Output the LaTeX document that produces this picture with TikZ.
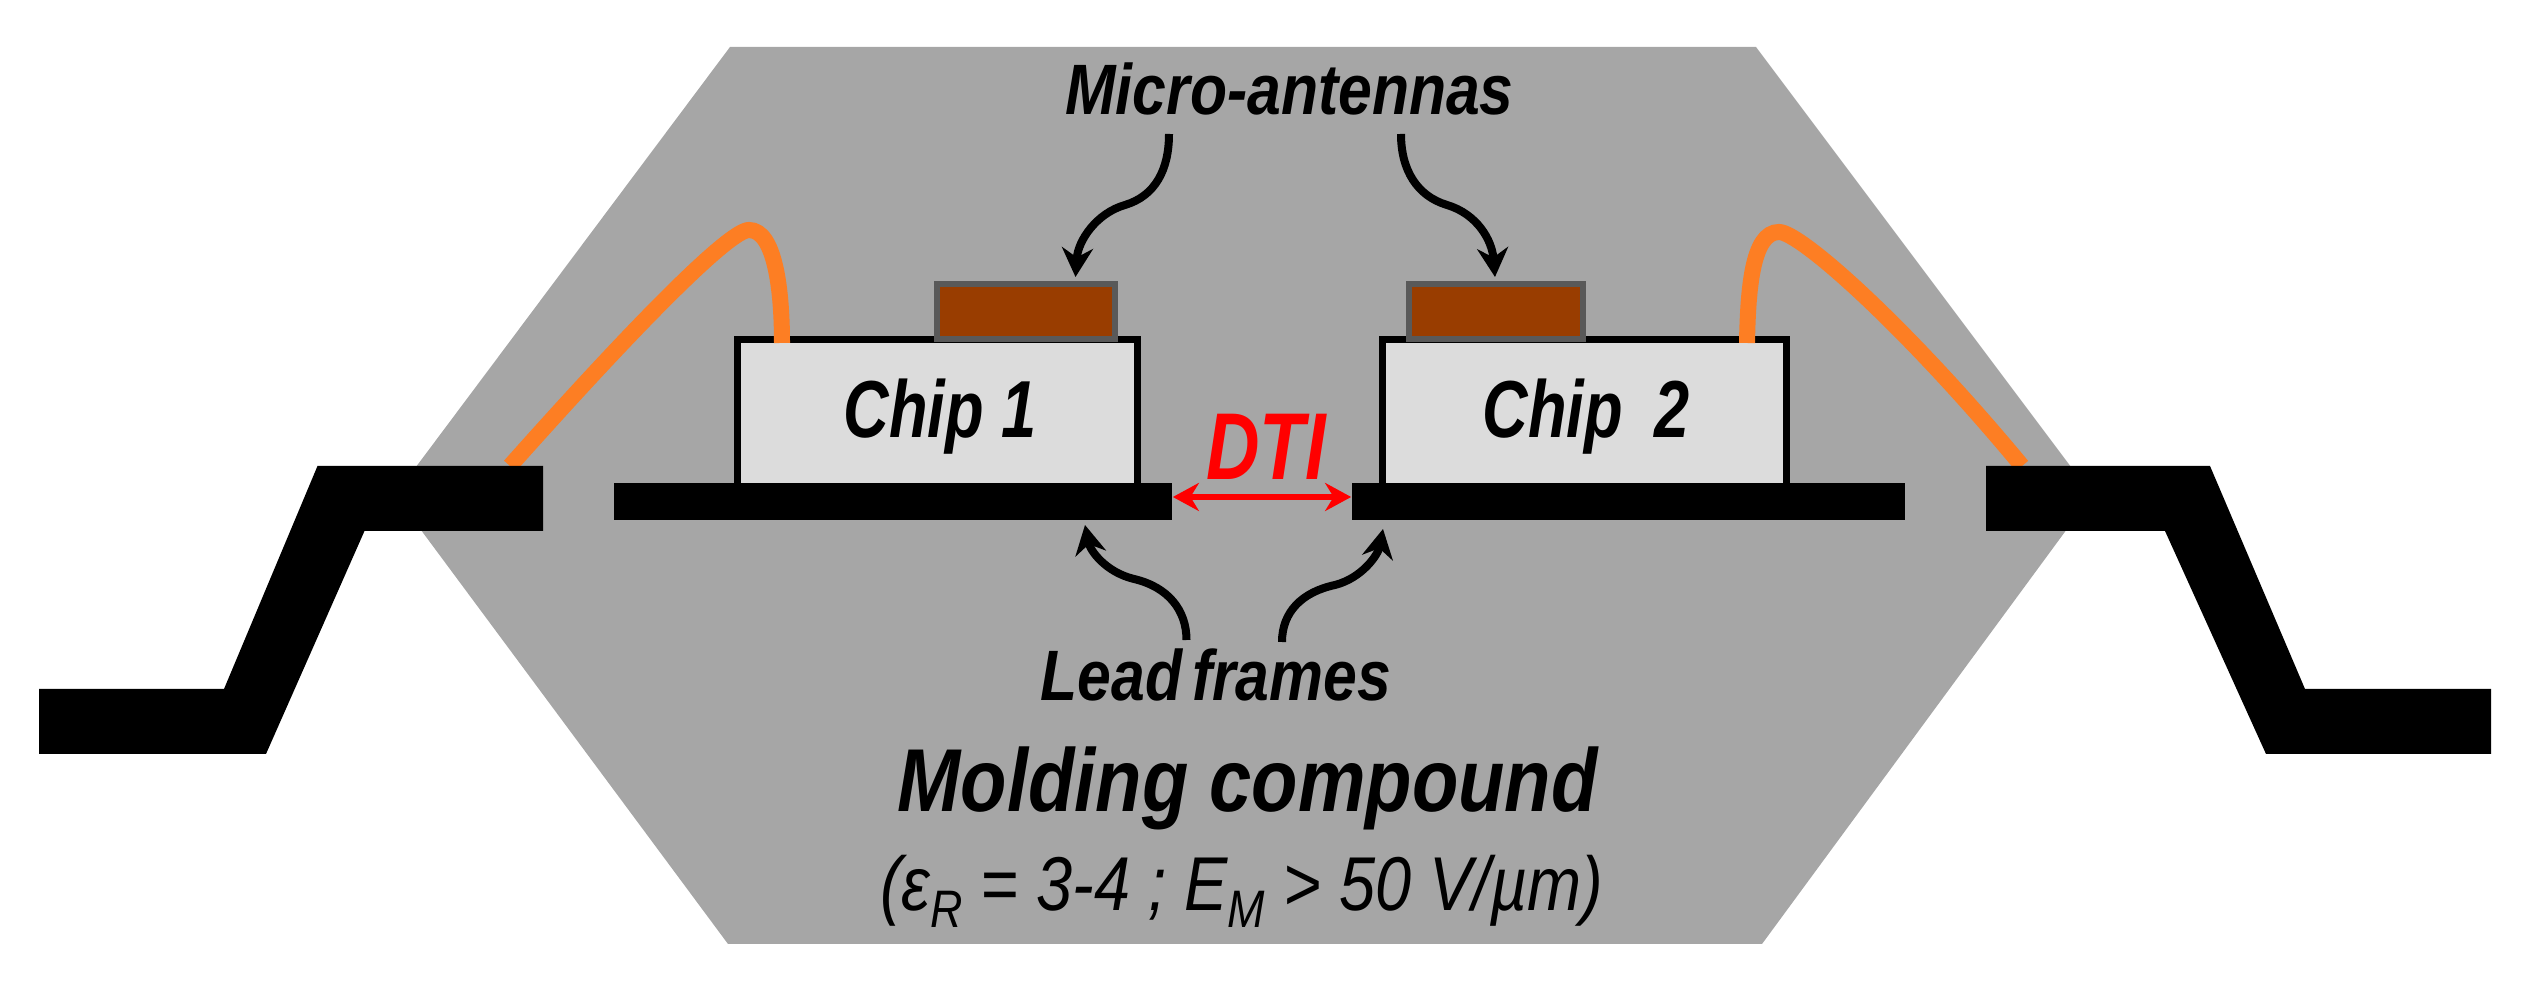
\documentclass[tikz,border=0pt]{standalone}
\usepackage{fontspec}
\setmainfont{Liberation Sans}
\newfontfamily\narrowfont[FakeStretch=0.78]{Liberation Sans}
\newfontfamily\widerfont[FakeStretch=0.85]{Liberation Sans}
\newcommand{\lowsub}[1]{\raisebox{-4.8pt}{\fontsize{15}{15}\selectfont #1}}
\usetikzlibrary{arrows.meta,positioning}

\begin{document}
\begin{tikzpicture}[x=0.01cm,y=-0.01cm]
\tikzset{
  hexshape/.style={fill=hexgrey,draw=none},
  leadshape/.style={fill=black,draw=none},
  padbar/.style={rectangle,fill=black,minimum width=5.58cm,minimum height=0.37cm,inner sep=0pt},
  chipbox/.style={rectangle,draw=black,fill=chipgrey,line width=0.07cm,minimum height=1.47cm,inner sep=0pt},
  antennabox/.style={rectangle,draw=antennaedge,fill=antennafill,line width=0.06cm,minimum height=0.55cm,inner sep=0pt},
  bondwire/.style={draw=wireorange,line width=0.16cm},
  callout/.style={draw=black,line width=0.08cm,-{Stealth[length=0.29cm,width=0.31cm]}},
  gapmark/.style={draw=red,line width=0.06cm,{Stealth[length=0.26cm,width=0.28cm]}-{Stealth[length=0.26cm,width=0.28cm]}},
  chiplabel/.style={anchor=base,inner sep=0pt,font=\narrowfont\bfseries\itshape\fontsize{23}{23}\selectfont},
  gaplabel/.style={anchor=base,inner sep=0pt,text=red,font=\narrowfont\bfseries\itshape\fontsize{27}{27}\selectfont},
  smalllabel/.style={anchor=base,inner sep=0pt,font=\widerfont\bfseries\itshape\fontsize{20.3}{20.3}\selectfont},
  biglabel/.style={anchor=base,inner sep=0pt,font=\widerfont\bfseries\itshape\fontsize{25.4}{25.4}\selectfont},
  plainlabel/.style={anchor=base,inner sep=0pt,font=\widerfont\itshape\fontsize{21.7}{21.7}\selectfont}
}
\definecolor{hexgrey}{HTML}{A6A6A6}
\definecolor{chipgrey}{HTML}{DCDCDC}
\definecolor{antennaedge}{HTML}{595959}
\definecolor{antennafill}{HTML}{993D00}
\definecolor{wireorange}{HTML}{FD7E23}
\useasboundingbox (0,0) rectangle (2538,983);
% package body
\path[hexshape] (730,47) -- (1756,47) -- (2092,495) -- (1762,944) -- (728,944) -- (395,495) -- cycle;
% chips and antennas
\node[chipbox,minimum width=4.00cm] (n_chip1) at (937.5,413) {};
\node[chipbox,minimum width=4.04cm] (n_chip2) at (1584.5,413) {};
\node[antennabox,minimum width=1.78cm] (n_ant1) at (1026,311.5) {};
\node[antennabox,minimum width=1.74cm] (n_ant2) at (1496,311.5) {};
\node[chiplabel] (n_chip1_text) at (940,438) {Chip 1};
\node[chiplabel] (n_chip2_text) at (1586,438) {Chip\, 2};
% lead frames
\node[padbar] (n_pad1) at (893,501.5) {};
\node[padbar,minimum width=5.53cm] (n_pad2) at (1628.5,501.5) {};
% bond wires
\coordinate (n_wire1a) at (782,343);
\coordinate (n_wire1b) at (749,230);
\coordinate (n_wire1c) at (510,466);
\coordinate (n_wire2a) at (1747,343);
\coordinate (n_wire2b) at (1779,232);
\coordinate (n_wire2c) at (2022,466);
\draw[bondwire] (n_wire1a) .. controls (782,290) and (775,230) .. (n_wire1b) .. controls (730,230) and (640,320) .. (n_wire1c);
\draw[bondwire] (n_wire2a) .. controls (1748,290) and (1752,232) .. (n_wire2b) .. controls (1800,232) and (1905,325) .. (n_wire2c);
% outer leads
\path[leadshape] (317.5,466) -- (543,466) -- (543,531) -- (364.5,531) -- (266,754) -- (39,754) -- (39,689) -- (224,689) -- cycle;
\path[leadshape] (1986,466) -- (2210,466) -- (2305,689) -- (2491,689) -- (2491,754) -- (2266,754) -- (2165,531) -- (1986,531) -- cycle;
% labels
\node[smalllabel] (n_micro) at (1289.5,115) {Micro-antennas};
\node[smalllabel] (n_lead) at (1216,701) {Lead\kern-2pt\ frames};
\node[biglabel] (n_mold) at (1247.5,812) {Molding compound};
\node[plainlabel] (n_props) at (1242,911) {(ε\lowsub{R} = 3-4 ; E\lowsub{M} > 50 V/µm)};
\node[gaplabel] (n_dti) at (1266,480) {DTI};
% arrows
\coordinate (n_tip1) at (1075.5,277);
\coordinate (n_tip2) at (1495,277);
\coordinate (n_tip3) at (1085,525);
\coordinate (n_tip4) at (1383,529);
\coordinate (n_from1) at (1169,134);
\coordinate (n_from2) at (1401,134);
\coordinate (n_from3) at (1186.5,640);
\coordinate (n_from4) at (1282,642);
\draw[callout] (n_from1) .. controls (1169,170) and (1155,196) .. (1125,205) .. controls (1097,213) and (1078,240) .. (n_tip1);
\draw[callout] (n_from2) .. controls (1401,170) and (1417,196) .. (1447,205) .. controls (1477,214) and (1492,240) .. (n_tip2);
\draw[callout] (n_from3) .. controls (1186.5,610) and (1168,587) .. (1134,579) .. controls (1105,572) and (1090,550) .. (n_tip3);
\draw[callout] (n_from4) .. controls (1282,612) and (1302,592) .. (1335,585) .. controls (1362,578) and (1378,555) .. (n_tip4);
\draw[gapmark] (n_pad1.east |- 0,497) -- (n_pad2.west |- 0,497);
\end{tikzpicture}
\end{document}
